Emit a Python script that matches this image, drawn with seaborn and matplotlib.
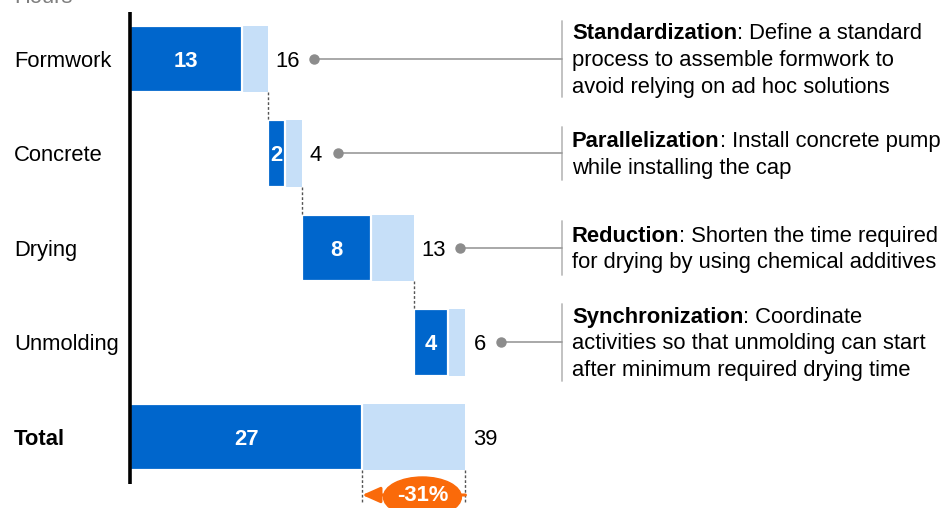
import matplotlib
matplotlib.use("Agg")
import matplotlib.pyplot as plt
import seaborn as sns
import pandas as pd
import numpy as np
from matplotlib.patches import Ellipse

# ---------------- data ----------------
categories = ["Formwork", "Concrete", "Drying", "Unmolding", "Total"]
current_hours = [16, 4, 13, 6, 39]
improved_hours = [13, 2, 8, 4, 27]
reduction_label = "-31%"
unit_label = "Hours"
levers = ["Standardization", "Parallelization", "Reduction", "Synchronization"]
lever_lines = [
    [": Define a standard", "process to assemble formwork to", "avoid relying on ad hoc solutions"],
    [": Install concrete pump", "while installing the cap"],
    [": Shorten the time required", "for drying by using chemical additives"],
    [": Coordinate", "activities so that unmolding can start", "after minimum required drying time"],
]

# waterfall starts: steps accumulate, total starts at 0
steps = current_hours[:-1]
starts = list(np.concatenate([[0], np.cumsum(steps)[:-1]])) + [0]

DARK = "#0066CC"
LIGHT = "#C6DFF8"
ORANGE = "#FA6A0A"
GREY_DOT = "#8C8C8C"
FS = 15.8

sns.set_theme(style="white")
plt.rcParams["font.family"] = ["Liberation Sans", "DejaVu Sans"]

fig = plt.figure(figsize=(9.45, 5.08), dpi=100)
ax = fig.add_axes([0, 0, 1, 1])

# layout helpers (pixel -> data)
X0, XS = 130.0, 8.6       # px of x=0, px per hour
Y0, YS = 59.0, 94.5       # px of first row center, px per row
def px2x(px):
    return (px - X0) / XS
def px2y(px):
    return (px - Y0) / YS

df = pd.DataFrame({"category": categories, "current": current_hours,
                   "improved": improved_hours, "start": starts})

sns.barplot(data=df, y="category", x="current", orient="h", left=df["start"].values,
            color=LIGHT, saturation=1, width=0.7, errorbar=None, linewidth=0, ax=ax)
sns.barplot(data=df, y="category", x="improved", orient="h", left=df["start"].values,
            color=DARK, saturation=1, width=0.7, errorbar=None,
            edgecolor="white", linewidth=1.6, ax=ax)

ax.set_xlim(px2x(0), px2x(945))
ax.set_ylim(px2y(508), px2y(0))
ax.set_axis_off()

n = len(categories)
# axis line
ax.plot([0, 0], [-0.5, n - 0.5], color="black", lw=2.6, solid_capstyle="butt", zorder=5)

# unit label (clipped at top, as in the original)
ax.text(px2x(14), px2y(3), unit_label, ha="left", va="baseline", fontsize=FS, color="#7F7F7F")

BL = 8 / YS  # baseline offset below row center
for i, (cat, cur, imp, st) in enumerate(zip(categories, current_hours, improved_hours, starts)):
    bold = cat == "Total"
    ax.text(px2x(14), i + BL, cat, ha="left", va="baseline", fontsize=FS,
            fontweight="bold" if bold else "normal", color="black")
    ax.text(st + imp / 2, i + BL, str(imp), ha="center", va="baseline", fontsize=FS,
            fontweight="bold", color="white", zorder=6)
    end = st + cur
    ax.text(end + 8 / XS, i + BL, str(cur), ha="left", va="baseline", fontsize=FS, color="black")

# dashed connectors
for i in range(n - 2):
    xe = starts[i] + current_hours[i]
    ax.plot([xe, xe], [i + 0.35, i + 0.65], color="#555555", lw=1, ls=(0, (2, 1.5)), zorder=4)
# under total
for xe in (improved_hours[-1], current_hours[-1]):
    ax.plot([xe, xe], [n - 1 + 0.35, px2y(503)], color="#555555", lw=1, ls=(0, (2, 1.5)), zorder=4)

# lever callouts
LS = 26.7 / YS
for i, (lev, lines) in enumerate(zip(levers, lever_lines)):
    end = starts[i] + current_hours[i]
    ndig = len(str(current_hours[i]))
    dot_x = end + (8 + 10.8 * ndig + 17) / XS
    ax.plot([dot_x, px2x(562)], [i, i], color="#9A9A9A", lw=1.2, zorder=3)
    ax.plot([dot_x], [i], marker="o", ms=6.5, color=GREY_DOT, mec=GREY_DOT, zorder=4)
    nl = len(lines)
    half = nl * LS / 2 - (0.02 if nl == 3 else 0)
    ax.plot([px2x(562), px2x(562)], [i - half, i + half], color="#BDBDBD", lw=1.3)
    for k, line in enumerate(lines):
        yc = i + (k - (nl - 1) / 2) * LS + 7 / YS
        if k == 0:
            t = ax.text(px2x(572), yc, lev, ha="left", va="baseline", fontsize=FS,
                        fontweight="bold", color="black")
            ax.annotate(line, xy=(1, 0), xycoords=t, ha="left", va="bottom",
                        fontsize=FS, color="black")
        else:
            ax.text(px2x(572), yc, line, ha="left", va="baseline", fontsize=FS, color="black")

# reduction arrow and badge
ya = px2y(495)
ax.annotate("", xy=(improved_hours[-1], ya), xytext=(current_hours[-1], ya),
            arrowprops=dict(arrowstyle="-|>,head_length=0.9,head_width=0.4",
                            color=ORANGE, lw=2.2, shrinkA=0, shrinkB=0), zorder=6)
cx = (improved_hours[-1] + current_hours[-1]) / 2 + 1.0
ell = Ellipse((cx, px2y(497)), width=78 / XS, height=40 / YS, color=ORANGE, zorder=7)
ax.add_patch(ell)
ax.text(cx, px2y(496), reduction_label, ha="center", va="center", fontsize=FS,
        fontweight="bold", color="white", zorder=8)

fig.savefig("out.png", dpi=100)
